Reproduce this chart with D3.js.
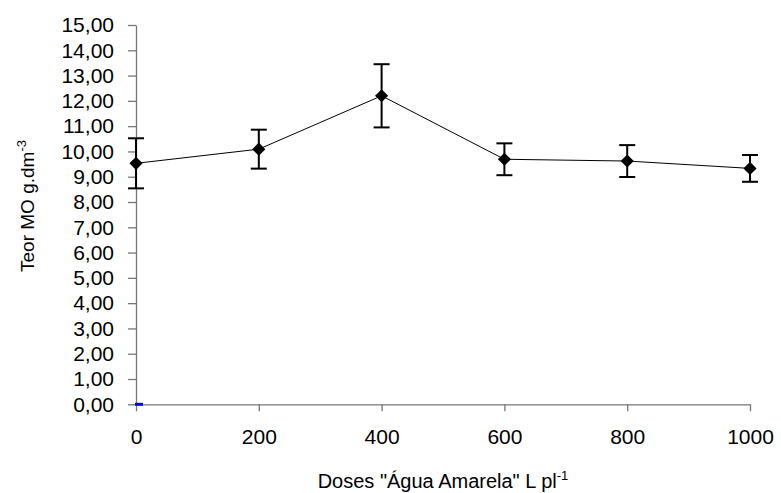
<!DOCTYPE html>
<html>
<head>
<meta charset="utf-8">
<script src="https://cdn.jsdelivr.net/npm/d3@7/dist/d3.min.js"></script>
<style>
  html, body { margin: 0; padding: 0; background: #fff; }
  svg { display: block; font-family: "Liberation Sans", Arial, sans-serif; }
</style>
</head>
<body>
<svg id="chart" width="781" height="493"></svg>
<script>
// Organic matter content per dose of "Água Amarela"
const doses = [0, 200, 400, 600, 800, 1000];
const teorMO = [9.53, 10.09, 12.20, 9.69, 9.62, 9.33];
const erro = [0.99, 0.77, 1.25, 0.63, 0.63, 0.53];
const baseline = [{ x: 0, y: 0 }];
const xTicks = [0, 200, 400, 600, 800, 1000];
const yTicks = d3.range(0, 16, 1);

const margin = { top: 25, left: 136, right: 31, bottom: 88.7 };
const W = 781, H = 493;
const innerW = W - margin.left - margin.right;
const innerH = H - margin.top - margin.bottom;

const svg = d3.select("#chart");
const g = svg.append("g").attr("transform", `translate(${margin.left},${margin.top})`);

const x = d3.scaleLinear().domain([0, 1000]).range([0, innerW]);
const y = d3.scaleLinear().domain([0, 15]).range([innerH, 0]);
const fmt = v => d3.format(".2f")(v).replace(".", ",");

// Axes
const yAxis = g.append("g")
  .call(d3.axisLeft(y).tickValues(yTicks).tickFormat(fmt).tickSize(8).tickPadding(14).tickSizeOuter(0));
const xAxis = g.append("g").attr("transform", `translate(0,${innerH})`)
  .call(d3.axisBottom(x).tickValues(xTicks).tickFormat(d3.format("d")).tickSize(7).tickPadding(18).tickSizeOuter(0));

[yAxis, xAxis].forEach(a => {
  a.select(".domain").attr("stroke", "#777").attr("stroke-width", 1.3);
  a.selectAll(".tick line").attr("stroke", "#777").attr("stroke-width", 1.3);
  a.selectAll(".tick text").attr("fill", "#000").style("font-size", "21px")
    .style("font-family", '"Liberation Sans", Arial, sans-serif');
});

const pts = doses.map((d, i) => ({ x: d, y: teorMO[i], e: erro[i] }));

// Connecting line
g.append("path").datum(pts)
  .attr("fill", "none").attr("stroke", "#000").attr("stroke-width", 1)
  .attr("d", d3.line().x(d => x(d.x)).y(d => y(d.y)));

// Error bars
const eb = g.append("g").attr("stroke", "#000").attr("stroke-width", 2);
const cap = 8;
pts.forEach(p => {
  eb.append("line").attr("x1", x(p.x)).attr("x2", x(p.x)).attr("y1", y(p.y + p.e)).attr("y2", y(p.y - p.e));
  eb.append("line").attr("x1", x(p.x) - cap).attr("x2", x(p.x) + cap).attr("y1", y(p.y + p.e)).attr("y2", y(p.y + p.e));
  eb.append("line").attr("x1", x(p.x) - cap).attr("x2", x(p.x) + cap).attr("y1", y(p.y - p.e)).attr("y2", y(p.y - p.e));
});

// Diamond markers
g.selectAll(".mk").data(pts).enter().append("path")
  .attr("class", "mk")
  .attr("d", d3.symbol().type(d3.symbolDiamond2).size(110))
  .attr("transform", d => `translate(${x(d.x)},${y(d.y)})`)
  .attr("fill", "#000");

// Small blue marker at the origin
g.selectAll(".base").data(baseline).enter().append("rect")
  .attr("x", d => x(d.x) - 1).attr("y", d => y(d.y) - 1.5)
  .attr("width", 8).attr("height", 3).attr("fill", "#0000ff");

// Axis titles
const xt = svg.append("text")
  .attr("x", margin.left + innerW / 2).attr("y", 488)
  .attr("text-anchor", "middle").style("font-size", "20px").attr("fill", "#000");
xt.append("tspan").text('Doses "Água Amarela" L pl');
xt.append("tspan").attr("dy", -8).style("font-size", "13px").text("-1");

const yt = svg.append("text")
  .attr("transform", "translate(34,206) rotate(-90)")
  .attr("text-anchor", "middle").style("font-size", "19px").attr("fill", "#000");
yt.append("tspan").text("Teor MO g.dm");
yt.append("tspan").attr("dy", -8).style("font-size", "13px").text("-3");
</script>
</body>
</html>
